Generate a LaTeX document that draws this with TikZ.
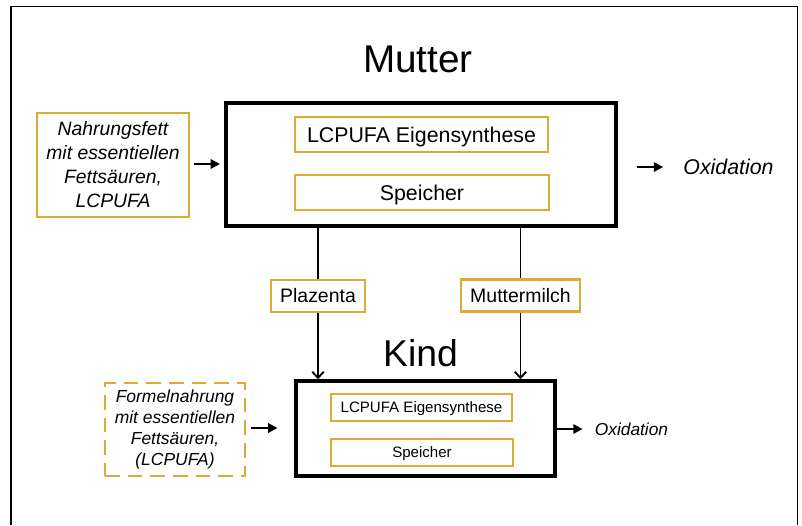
\documentclass[tikz,border=0pt]{standalone}
\usepackage{fontspec}
\setmainfont{Liberation Sans}
\usetikzlibrary{positioning,arrows.meta}
\definecolor{gold}{RGB}{221,170,51}
\tikzset{
  body box/.style={draw,line width=3pt,inner sep=0pt},
  part box/.style={draw=gold,line width=1.6pt,inner sep=0pt,text depth=0pt,minimum height=#1},
  feed box/.style={draw=gold,line width=1.8pt,inner sep=0pt,align=center,font=\itshape},
  route box/.style={draw=gold,line width=1.8pt,inner sep=0pt,minimum height=24pt,font=\fontsize{14.6}{17}\selectfont},
  title/.style={inner sep=0pt,font=\fontsize{#1}{#1}\selectfont},
  flow/.style={line width=1.4pt,-{Straight Barb[length=4.5pt,width=8.5pt]}},
  push/.style={line width=1.5pt,-{Triangle[length=7pt,width=7pt]}}
}

\begin{document}
\begin{tikzpicture}[x=0.75pt,y=-0.75pt]
\useasboundingbox (0,0) rectangle (802,525);
% frame, open at the bottom
\draw[line width=1.1pt] (11,525) -- (11,6.5) -- (797.5,6.5) -- (797.5,525);

% mother
\node[title=29] (mutterT) at (418,59) {Mutter};
\node[body box,minimum width=292.5pt,minimum height=92.25pt] (mutter) at (421,164.5) {};
\node[part box=26pt,minimum width=190pt,font=\fontsize{16}{19}\selectfont] (synM) at (421.5,134.5) {LCPUFA Eigensynthese};
\node[part box=26pt,minimum width=190pt,font=\fontsize{16}{19}\selectfont] (speiM) at (422,192.5) {Speicher};
\node[feed box,minimum width=114pt,minimum height=78pt,font=\itshape\fontsize{14.5}{18}\selectfont] (fett) at (113,165)
  {Nahrungsfett\\mit essentiellen\\Fettsäuren,\\LCPUFA};
\node[inner sep=0pt,font=\itshape\fontsize{16}{19}\selectfont] (oxM) at (728.5,167) {Oxidation};

% child
\node[title=28] (kindT) at (420.5,353.5) {Kind};
\node[body box,minimum width=194pt,minimum height=71pt] (kind) at (425.5,428.5) {};
\node[part box=20pt,minimum width=136pt,font=\fontsize{11.3}{13}\selectfont] (synK) at (421.5,407.5) {LCPUFA Eigensynthese};
\node[part box=20pt,minimum width=136pt,font=\fontsize{11.3}{13}\selectfont] (speiK) at (422,452.5) {Speicher};
\node[feed box,dash pattern=on 11pt off 6pt,minimum width=105pt,minimum height=70pt,font=\itshape\fontsize{13.1}{15.75}\selectfont] (formel) at (175,429.5)
  {Formelnahrung\\mit essentiellen\\Fettsäuren,\\(LCPUFA)};
\node[inner sep=0pt,font=\itshape\fontsize{13}{15}\selectfont] (oxK) at (631.5,429) {Oxidation};

% transfer routes
\node[route box,minimum width=70.5pt] (plaz) at (318,296) {Plazenta};
\node[route box,minimum width=89pt] (milch) at (520.5,295.5) {Muttermilch};

\draw[line width=1.4pt] (mutter.south -| plaz) -- (plaz);
\draw[flow] (plaz) -- (kind.north -| plaz);
\draw[line width=1.4pt] (mutter.south -| milch) -- (milch);
\draw[flow] (milch) -- (kind.north -| milch);

\draw[push,shorten <=3pt,shorten >=3pt] (fett.east |- 0,164) -- (mutter.west |- 0,164);
\draw[push,shorten <=14pt,shorten >=15pt] (mutter.east |- oxM) -- (oxM);
\draw[push,shorten <=3.5pt,shorten >=12.5pt] (formel.east |- 0,428) -- (kind.west |- 0,428);
\draw[push,shorten >=9pt] (kind.east |- oxK) -- (oxK);
\end{tikzpicture}
\end{document}
